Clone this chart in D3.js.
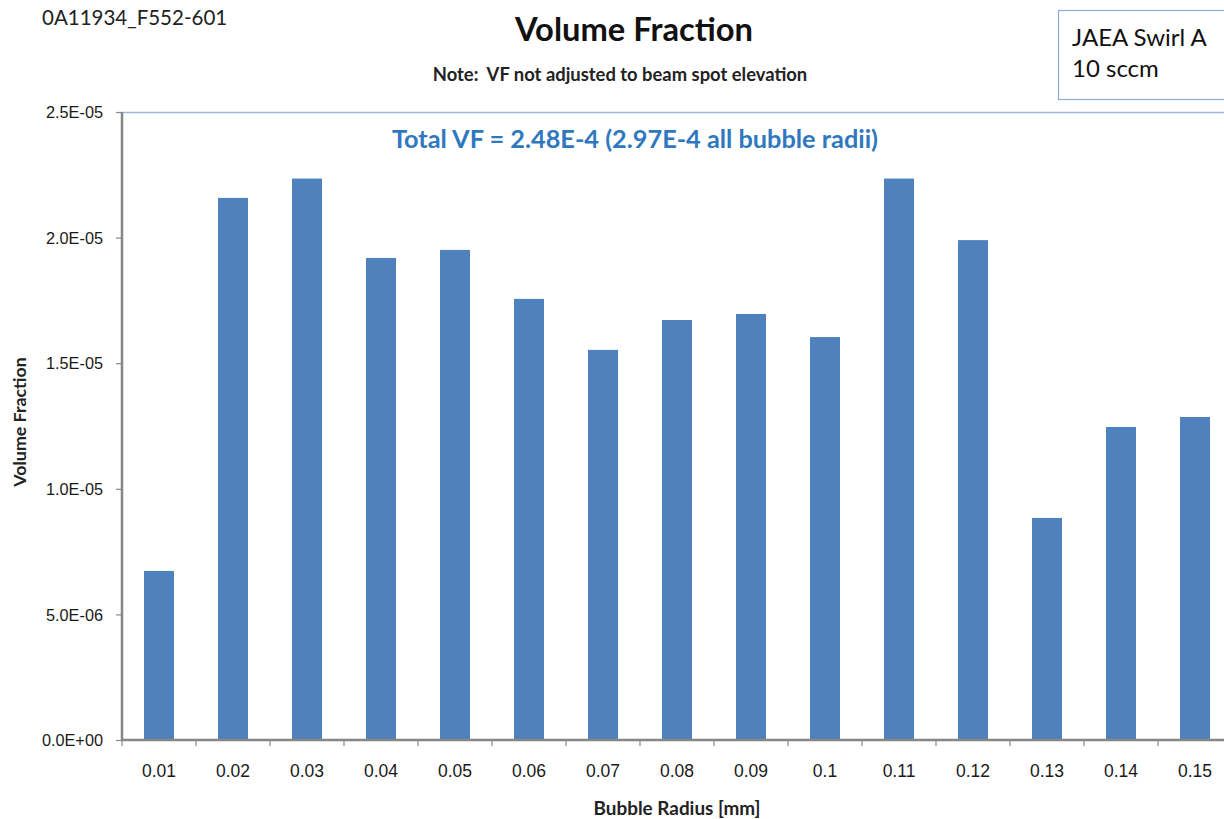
<!DOCTYPE html>
<html><head><meta charset="utf-8">
<script src="https://cdn.jsdelivr.net/npm/d3@7"></script>
<style>body{margin:0;background:#fff;} svg{display:block;font-family:Lato, "Open Sans", sans-serif;} text{white-space:pre;}</style>
</head><body><svg id="c" width="1224" height="819"></svg>
<script>
const categories = ["0.01","0.02","0.03","0.04","0.05","0.06","0.07","0.08","0.09","0.1","0.11","0.12","0.13","0.14","0.15"];
const values = [6.73e-6, 2.158e-5, 2.235e-5, 1.919e-5, 1.951e-5, 1.756e-5, 1.553e-5, 1.672e-5, 1.696e-5, 1.604e-5, 2.235e-5, 1.990e-5, 8.84e-6, 1.246e-5, 1.286e-5];
const yTicks = [0, 5e-6, 1e-5, 1.5e-5, 2e-5, 2.5e-5];
const yTickLabels = ["0.0E+00","5.0E-06","1.0E-05","1.5E-05","2.0E-05","2.5E-05"];

(function(){
const svg = d3.select("#c");
const pl = 122, pt = 112, pb = 740, pr = 1232;
const x = d3.scaleBand().domain(categories).range([pl, pr]).paddingInner(0.595).paddingOuter(0.2975);
const xb = d3.scaleBand().domain(categories).range([pl, pr]);
const y = d3.scaleLinear().domain([0, 2.5e-5]).range([pb, pt]);

svg.append("line").attr("x1", pl).attr("x2", 1224).attr("y1", pt + 0.5).attr("y2", pt + 0.5)
  .attr("stroke", "#9bb6dd").attr("stroke-width", 1.5);

svg.append("g").selectAll("rect").data(values).join("rect")
  .attr("x", (d, i) => x(categories[i]))
  .attr("width", x.bandwidth())
  .attr("y", d => y(d))
  .attr("height", d => pb - y(d))
  .attr("fill", "#4f81bd");

const yAxis = svg.append("g").attr("transform", `translate(${pl},0)`)
  .call(d3.axisLeft(y).tickValues(yTicks).tickFormat((d, i) => yTickLabels[i]).tickSize(6).tickPadding(13));
yAxis.select(".domain").attr("stroke", "#868686").attr("stroke-width", 2.5).attr("d", `M0,${pt}V${pb}`);
yAxis.selectAll(".tick line").attr("stroke", "#868686").attr("stroke-width", 1.2);
yAxis.selectAll("text").attr("font-size", 16.3).attr("fill", "#1a1a1a").attr("dy", "0.35em");

const xAxis = svg.append("g").attr("transform", `translate(0,${pb})`)
  .call(d3.axisBottom(xb).tickSize(0).tickPadding(0));
xAxis.select(".domain").attr("stroke", "#868686").attr("stroke-width", 2.5).attr("d", `M${pl},0H1224`);
xAxis.selectAll("text").attr("font-size", 17.5).attr("fill", "#1a1a1a").attr("dy", null).attr("y", 37);
svg.append("g").selectAll("line").data(categories).join("line")
  .attr("x1", d => xb(d)).attr("x2", d => xb(d))
  .attr("y1", pb).attr("y2", pb + 6)
  .attr("stroke", "#868686").attr("stroke-width", 1.2);

svg.append("text").attr("x", 42).attr("y", 25).attr("font-size", 20.5).attr("fill", "#222").text("0A11934_F552-601");
svg.append("text").attr("x", 634).attr("y", 41).attr("text-anchor", "middle").attr("font-size", 32.7).attr("font-weight", "bold").attr("fill", "#111").text("Volume Fraction");
svg.append("text").attr("x", 620).attr("y", 81).attr("text-anchor", "middle").attr("font-size", 18.4).attr("font-weight", "bold").attr("fill", "#222").text("Note:  VF not adjusted to beam spot elevation");
svg.append("text").attr("x", 635).attr("y", 148).attr("text-anchor", "middle").attr("font-size", 25.3).attr("font-weight", "bold").attr("fill", "#2f78c0").text("Total VF = 2.48E-4 (2.97E-4 all bubble radii)");
svg.append("text").attr("transform", "translate(26,422) rotate(-90)").attr("text-anchor", "middle").attr("font-size", 17.8).attr("font-weight", "bold").attr("fill", "#222").text("Volume Fraction");
svg.append("text").attr("x", 677).attr("y", 815).attr("text-anchor", "middle").attr("font-size", 18.9).attr("font-weight", "bold").attr("fill", "#222").text("Bubble Radius [mm]");

svg.append("rect").attr("x", 1058.5).attr("y", 10.5).attr("width", 180).attr("height", 89).attr("fill", "#fff").attr("stroke", "#8eaadb").attr("stroke-width", 1.2);
svg.append("text").attr("x", 1072).attr("y", 46).attr("font-size", 24).attr("fill", "#111").text("JAEA Swirl A");
svg.append("text").attr("x", 1072).attr("y", 77).attr("font-size", 24).attr("fill", "#111").text("10 sccm");
})();
</script></body></html>
